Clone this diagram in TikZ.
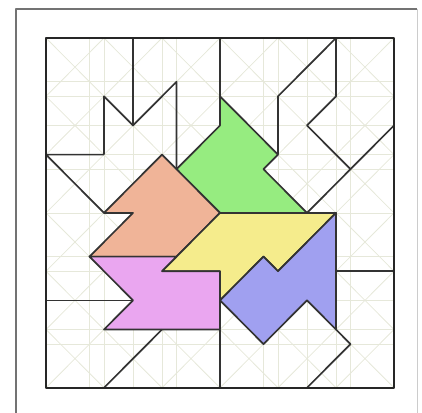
\documentclass[tikz,border=0pt]{standalone}
\usepackage{tikz}
\definecolor{gridc}{RGB}{230,232,218}
\definecolor{leaf}{RGB}{150,236,128}
\definecolor{peach}{RGB}{240,180,152}
\definecolor{lemon}{RGB}{245,236,140}
\definecolor{orchid}{RGB}{234,166,240}
\definecolor{lilac}{RGB}{160,160,240}
\begin{document}
\begin{tikzpicture}[x=58pt,y=-58.3pt,line join=round,
  piece/.style={draw=black!80,line width=1.7pt},
  cut/.style={black!80,line width=1.7pt}]
  \useasboundingbox (-0.793,-0.652) rectangle (6.483,6.432);
  % frame
  \draw[black!55,line width=2.2pt] (-0.517,6.5) -- (-0.517,-0.497) -- (6.397,-0.497);
  \draw[black!20,line width=1pt] (6.397,-0.497) -- (6.397,6.5);
  % lattice
  \foreach \k in {1,...,7}
     {\draw[gridc,line width=0.8pt] (\k*0.75,0) -- (\k*0.75,6) (0,\k*0.75) -- (6,\k*0.75);}
  \foreach \k in {1,...,5}
     {\draw[gridc,line width=0.8pt] (\k,0) -- (\k,6) (0,\k) -- (6,\k);}
  \foreach \i in {0,...,5} \foreach \j in {0,...,5}
     {\draw[gridc,line width=0.8pt] (\i,\j) -- ++(1,1) (\i+1,\j) -- ++(-1,1);}
  % pieces
  \filldraw[piece,fill=leaf] (3,1) -- (4,2) -- (3.75,2.25) -- (4.5,3) -- (3,3) -- (2.25,2.25) -- (3,1.5) -- cycle;
  \filldraw[piece,fill=peach] (2,2) -- (3,3) -- (2.25,3.75) -- (0.75,3.75) -- (1.5,3) -- (1,3) -- cycle;
  \filldraw[piece,fill=lemon] (3,3) -- (5,3) -- (4,4) -- (3.75,3.75) -- (3,4.5) -- (3,4) -- (2,4) -- cycle;
  \filldraw[piece,fill=orchid] (0.75,3.75) -- (2.25,3.75) -- (2,4) -- (3,4) -- (3,5) -- (1,5) -- (1.5,4.5) -- cycle;
  \filldraw[piece,fill=lilac] (5,3) -- (4,4) -- (3.75,3.75) -- (3,4.5) -- (3.75,5.25) -- (4.5,4.5) -- (5,5) -- cycle;
  % cuts
  \draw[cut] (1.5,0) -- (1.5,1.5);
  \draw[cut] (1,2) -- (1,1) -- (1.5,1.5) -- (2.25,0.75) -- (2.25,2.25);
  \draw[cut] (0,2) -- (1,2) (0,2) -- (1,3);
  \draw[cut] (3,0) -- (3,1);
  \draw[cut] (5,0) -- (4,1) -- (4,2);
  \draw[cut] (5,0) -- (5,1) -- (4.5,1.5) -- (5.25,2.25);
  \draw[cut] (6,1.5) -- (4.5,3);
  \draw[cut] (5,4) -- (6,4);
  \draw[cut] (5,5) -- (5.25,5.25) -- (4.5,6);
  \draw[cut] (3,5) -- (3,6);
  \draw[cut] (2,5) -- (1,6);
  \draw[cut] (0,4.5) -- (1.5,4.5);
  \draw[black!85,line width=1.8pt] (0,0) rectangle (6,6);
\end{tikzpicture}
\end{document}
